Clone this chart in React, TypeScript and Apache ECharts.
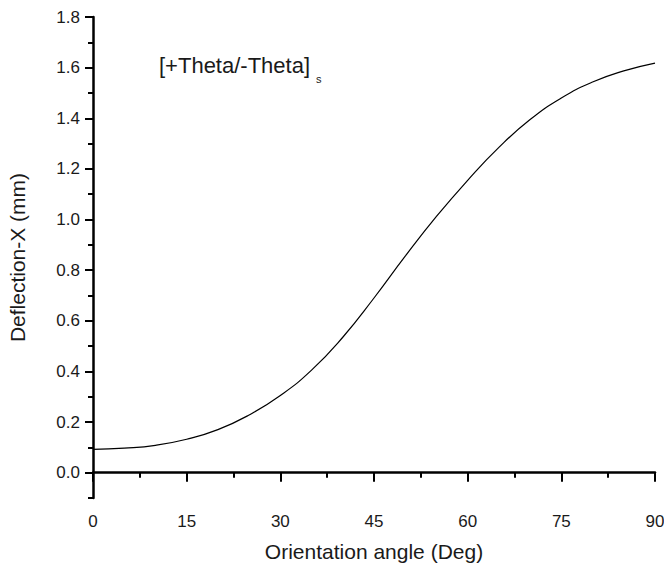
import React, { useEffect, useRef } from "react";
import * as echarts from "echarts";

const angles = [0, 5, 10, 15, 20, 25, 30, 35, 40, 45, 50, 55, 60, 65, 70, 75, 80, 85, 90];
const deflection = [0.092, 0.097, 0.108, 0.132, 0.17, 0.228, 0.305, 0.405, 0.535, 0.69, 0.855, 1.012, 1.155, 1.285, 1.395, 1.48, 1.543, 1.587, 1.618];
const yMajorTicks = [0, 0.2, 0.4, 0.6, 0.8, 1.0, 1.2, 1.4, 1.6, 1.8];
const yMinorTicks = [-0.1, 0.1, 0.3, 0.5, 0.7, 0.9, 1.1, 1.3, 1.5, 1.7];
const xTitle = "Orientation angle (Deg)";
const yTitle = "Deflection-X (mm)";
const annotation = "[+Theta/-Theta]";
const annotationSub = "s";

const FONT = "'Liberation Sans', Arial, sans-serif";
const TXT = "#1a1a1a";

export default function App() {
  const ref = useRef<HTMLDivElement>(null);
  useEffect(() => {
    if (!ref.current) return;
    const chart = echarts.init(ref.current, null, { renderer: "svg" });
    const axisLine = { show: true, lineStyle: { color: "#000", width: 2.5 } };
    chart.setOption({
      animation: false,
      backgroundColor: "#fff",
      grid: { left: 93, right: 9, top: 17, bottom: 73, containLabel: false, outerBoundsMode: "none" },
      xAxis: {
        type: "value",
        min: 0,
        max: 90,
        interval: 15,
        name: xTitle,
        nameLocation: "middle",
        nameGap: 43,
        nameTextStyle: { fontFamily: FONT, fontSize: 21, color: TXT },
        axisLine,
        axisTick: { show: true, length: 9, lineStyle: { color: "#000", width: 2 } },
        minorTick: { show: true, splitNumber: 2, length: 5, lineStyle: { color: "#000", width: 2 } },
        axisLabel: { margin: 15, fontFamily: FONT, fontSize: 17, color: TXT },
        splitLine: { show: false },
        minorSplitLine: { show: false },
      },
      yAxis: [
        {
          type: "value",
          min: -0.1,
          max: 1.8,
          name: yTitle,
          nameLocation: "middle",
          nameGap: 65,
          nameTextStyle: { fontFamily: FONT, fontSize: 21, color: TXT },
          axisLine,
          axisTick: { show: true, length: 8, customValues: yMajorTicks, lineStyle: { color: "#000", width: 2 } },
          axisLabel: {
            margin: 13,
            fontFamily: FONT,
            fontSize: 17,
            color: TXT,
            customValues: yMajorTicks,
            formatter: (v: number) => v.toFixed(1),
          },
          splitLine: { show: false },
        },
        {
          type: "value",
          min: -0.1,
          max: 1.8,
          position: "left",
          offset: 0,
          axisLine: { show: false },
          axisTick: { show: true, length: 5, customValues: yMinorTicks, lineStyle: { color: "#000", width: 2 } },
          axisLabel: { show: false },
          splitLine: { show: false },
        },
      ],
      graphic: [
        {
          type: "text",
          left: 159,
          top: 54,
          style: { text: annotation, fontFamily: FONT, fontSize: 22, fill: TXT },
        },
        {
          type: "text",
          left: 316,
          top: 73,
          style: { text: annotationSub, fontFamily: FONT, fontSize: 11, fill: TXT },
        },
      ],
      series: [
        {
          type: "line",
          yAxisIndex: 0,
          data: angles.map((a, i) => [a, deflection[i]]),
          smooth: 0.5,
          showSymbol: false,
          lineStyle: { color: "#000", width: 1.2 },
        },
      ],
    });
    return () => chart.dispose();
  }, []);
  return <div ref={ref} style={{ position: "fixed", left: 0, top: 0, width: 664, height: 571 }} />;
}
